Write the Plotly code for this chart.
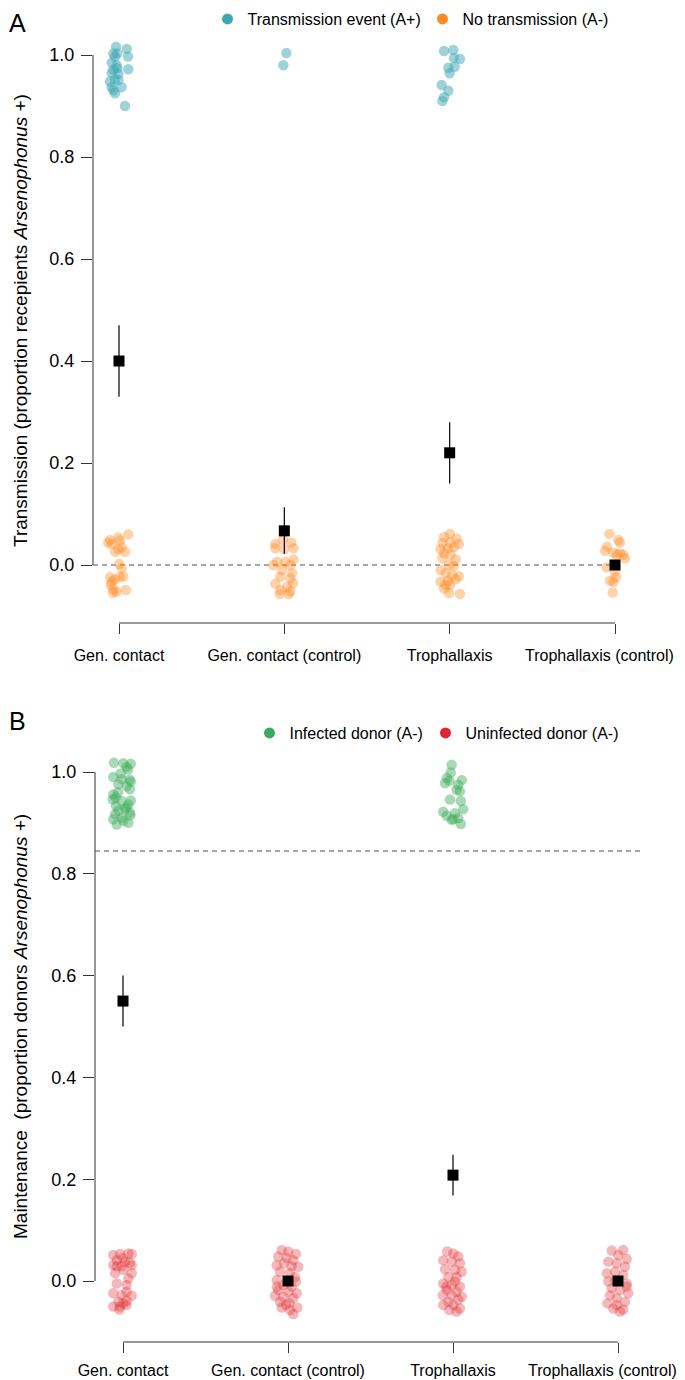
import plotly.graph_objects as go

# ---------------- data ----------------
categories = ["Gen. contact", "Gen. contact (control)", "Trophallaxis", "Trophallaxis (control)"]
cat_pos = [1, 2, 3, 4]
y_ticks = [0.0, 0.2, 0.4, 0.6, 0.8, 1.0]

# Panel A: transmission event (A+) points per category (value, horizontal jitter)
a_pos_y = [
    [1.016, 1.012, 1.003, 1.003, 0.997, 0.997, 0.985, 0.980, 0.971, 0.972, 0.974,
     0.965, 0.963, 0.952, 0.951, 0.948, 0.937, 0.937, 0.931, 0.925, 0.900],
    [1.004, 0.980],
    [1.008, 1.010, 0.994, 0.992, 0.975, 0.977, 0.964, 0.941, 0.930, 0.917, 0.910],
    [],
]
a_pos_jit = [
    [-0.018, 0.047, -0.034, -0.010, 0.054, -0.024, -0.044, -0.014, -0.034, 0.056, -0.010,
     -0.044, -0.004, -0.024, -0.004, -0.054, 0.016, -0.044, -0.034, -0.024, 0.036],
    [0.012, -0.006],
    [-0.034, 0.022, 0.026, 0.062, -0.008, 0.030, 0.000, -0.048, -0.008, -0.034, -0.044],
    [],
]
# Panel A: no transmission (A-)
a_neg_y = [
    [0.060, 0.049, 0.054, 0.044, 0.041, 0.048, 0.026, 0.031, 0.026, 0.035, 0.002,
     -0.006, -0.024, -0.028, -0.024, -0.022, -0.033, -0.048, -0.049, -0.055, -0.052, -0.039],
    [0.041, 0.050, 0.044, 0.033, 0.033, 0.031, 0.006, 0.006, 0.011, 0.000, 0.000,
     -0.010, -0.016, -0.023, -0.026, -0.036, -0.037, -0.043, -0.049, -0.057, -0.057, -0.052],
    [0.055, 0.061, 0.052, 0.043, 0.044, 0.041, 0.031, 0.033, 0.035, 0.023, 0.020, 0.013, 0.011,
     0.000, -0.010, -0.002, -0.016, -0.020, -0.022, -0.033, -0.031, -0.028, -0.046, -0.039,
     -0.055, -0.057, -0.039],
    [0.061, 0.049, 0.044, 0.036, 0.028, 0.024, 0.023, 0.013, 0.020, -0.005, -0.013,
     -0.024, -0.031, -0.033, -0.054, 0.020],
]
a_neg_jit = [
    [0.056, -0.054, -0.004, -0.065, -0.044, 0.006, -0.024, -0.004, 0.036, 0.016, 0.002,
     0.016, -0.054, -0.024, 0.006, 0.026, -0.044, -0.035, 0.042, -0.035, -0.014, -0.050],
    [-0.055, -0.008, 0.042, 0.056, -0.055, 0.000, -0.044, 0.006, 0.056, 0.036, -0.065,
     -0.014, 0.047, -0.024, 0.036, 0.053, -0.055, 0.016, -0.024, 0.026, -0.028, 0.036],
    [-0.034, 0.002, 0.042, -0.044, 0.002, 0.056, -0.055, -0.010, 0.026, -0.034, 0.006, -0.044, 0.036,
     -0.004, -0.055, 0.026, -0.024, 0.016, 0.056, -0.055, -0.010, 0.036, -0.034, 0.002,
     -0.004, 0.062, -0.024],
    [-0.034, 0.020, 0.030, -0.047, -0.061, -0.010, 0.030, 0.061, 0.010, -0.050, 0.000,
     0.006, -0.030, -0.010, -0.014, 0.050],
]
a_mean = [0.40, 0.067, 0.22, 0.0]
a_upper = [0.47, 0.113, 0.28, 0.0]
a_lower = [0.33, 0.022, 0.16, 0.0]
a_ref_line = 0.0

# Panel B: infected donor points
b_inf_y = [
    [1.018, 1.017, 1.016, 1.010, 0.990, 0.997, 0.986, 0.981, 0.976, 0.966, 0.972, 0.956, 0.946,
     0.943, 0.944, 0.936, 0.933, 0.928, 0.924, 0.920, 0.907, 0.910, 0.900, 0.897, 0.904, 0.917,
     1.005, 0.960, 0.930, 0.915, 0.985, 0.950],
    [],
    [1.014, 0.999, 0.988, 0.983, 0.984, 0.978, 0.975, 0.965, 0.962, 0.946, 0.943, 0.927, 0.922,
     0.919, 0.914, 0.906, 0.909, 0.898, 0.907],
    [],
]
b_inf_jit = [
    [-0.055, 0.002, 0.047, 0.022, -0.059, -0.014, -0.008, 0.047, -0.028, 0.042, 0.022, -0.059, -0.062,
     -0.008, 0.047, 0.032, -0.042, 0.012, -0.028, 0.042, -0.059, -0.008, 0.032, -0.038, 0.002, -0.048,
     0.030, -0.030, 0.020, 0.045, 0.040, -0.045],
    [],
    [-0.008, -0.014, -0.038, -0.022, 0.053, -0.048, 0.032, 0.022, 0.042, -0.018, 0.047, 0.062, -0.059,
     0.012, -0.038, -0.008, 0.032, 0.047, 0.002],
    [],
]
# Panel B: uninfected donor points
b_uninf_y = [
    [0.051, 0.053, 0.054, 0.053, 0.041, 0.038, 0.036, 0.031, 0.029, 0.031, 0.022, 0.015, 0.015,
     0.005, -0.005, -0.008, -0.024, -0.021, -0.028, -0.029, -0.039, -0.041, -0.044, -0.050,
     -0.050, -0.047, -0.056, 0.029, 0.045],
    [0.061, 0.058, 0.053, 0.048, 0.045, 0.041, 0.031, 0.035, 0.029, 0.028, 0.018, 0.016, 0.008,
     0.002, -0.001, -0.008, -0.011, -0.018, -0.021, -0.024, -0.029, -0.031, -0.034, -0.041,
     -0.043, -0.052, -0.052, -0.057, -0.065, -0.047, -0.011],
    [0.058, 0.054, 0.048, 0.041, 0.038, 0.035, 0.023, 0.022, 0.018, 0.008, 0.008, -0.005, -0.008,
     -0.011, -0.018, -0.021, -0.028, -0.028, -0.031, -0.041, -0.037, -0.047, -0.047, -0.054,
     -0.057, -0.060, -0.011, -0.001],
    [0.060, 0.061, 0.051, 0.043, 0.038, 0.035, 0.028, 0.015, 0.018, 0.012, -0.001, -0.005, -0.014,
     -0.018, -0.024, -0.028, -0.034, -0.041, -0.044, -0.047, -0.056, -0.054, -0.060, -0.011, 0.002],
]
b_uninf_jit = [
    [-0.059, -0.018, 0.032, 0.053, -0.038, 0.012, 0.042, -0.059, -0.008, 0.053, 0.002, -0.048, 0.053,
     0.032, -0.038, 0.022, -0.059, 0.022, -0.008, 0.053, 0.022, -0.028, 0.002, -0.059,
     -0.018, 0.022, -0.022, -0.038, -0.002],
    [-0.038, 0.002, 0.048, -0.059, -0.008, 0.032, -0.068, -0.024, 0.022, 0.062, -0.048, 0.012, 0.042,
     -0.068, 0.048, -0.028, 0.022, -0.059, 0.002, 0.053, -0.079, -0.028, 0.032, -0.048,
     0.008, 0.056, -0.038, 0.012, 0.032, -0.012, -0.068],
    [-0.035, 0.002, 0.032, -0.059, -0.008, 0.042, -0.048, 0.012, 0.053, -0.028, 0.022, -0.059, -0.008,
     0.042, -0.038, 0.022, -0.062, -0.008, 0.053, -0.028, 0.032, -0.059, 0.002, 0.042,
     -0.022, 0.022, -0.042, 0.012],
    [-0.038, 0.032, 0.002, 0.053, -0.059, -0.008, 0.042, -0.068, -0.018, 0.032, -0.059, 0.053, -0.038,
     0.012, 0.062, -0.048, -0.008, 0.042, -0.065, -0.008, 0.032, -0.028, 0.012, 0.053, -0.018],
]
b_mean = [0.55, 0.0, 0.208, 0.0]
b_upper = [0.60, 0.0, 0.248, 0.0]
b_lower = [0.50, 0.0, 0.168, 0.0]
b_ref_line = 0.845

# ---------------- styling ----------------
FONT = "Liberation Sans, Arial, Helvetica, sans-serif"
TEAL = "#3FA7B4"
ORANGE = "#FF8A1F"
GREEN = "#3DAA5C"
RED = "#E0262E"
AX = "#333333"
OFF = 8                      # page body margin of the browser
W, H = 685 - OFF, 1380 - OFF

# the last label sits slightly left of its tick (kept inside the page), as in the reference
NBSP = "\u00a0"
tick_labels = categories[:-1] + [categories[-1] + NBSP * 7]


def py(p):                   # screen pixel (from top) -> paper fraction
    return 1 - (p - OFF) / H


def pxx(p):                  # screen pixel (from left) -> paper fraction
    return (p - OFF) / W


fig = go.Figure()


def add_points(ys, jits, color, opacity, xa, ya):
    xs, yv = [], []
    for c, vals, jit in zip(cat_pos, ys, jits):
        for v, j in zip(vals, jit):
            xs.append(c + j)
            yv.append(v)
    fig.add_trace(go.Scatter(
        x=xs, y=yv, mode="markers", xaxis=xa, yaxis=ya, showlegend=False,
        marker=dict(color=color, size=10.5, opacity=opacity, line=dict(width=0)),
        hoverinfo="skip"))


def add_means(mean, up, lo, xa, ya):
    fig.add_trace(go.Scatter(
        x=cat_pos, y=mean, mode="markers", xaxis=xa, yaxis=ya, showlegend=False,
        marker=dict(symbol="square", color="black", size=11),
        error_y=dict(type="data", symmetric=False,
                     array=[u - m for u, m in zip(up, mean)],
                     arrayminus=[m - l for m, l in zip(mean, lo)],
                     color="black", thickness=1.2, width=0)))


def add_legend_entry(name, color, legend, xa, ya):
    fig.add_trace(go.Scatter(
        x=[None], y=[None], mode="markers", name=name, legend=legend,
        xaxis=xa, yaxis=ya, marker=dict(color=color, size=11)))


# Panel A
add_points(a_pos_y, a_pos_jit, TEAL, 0.5, "x", "y")
add_points(a_neg_y, a_neg_jit, ORANGE, 0.38, "x", "y")
add_means(a_mean, a_upper, a_lower, "x", "y")
add_legend_entry("Transmission event (A+)", TEAL, "legend", "x", "y")
add_legend_entry("No transmission (A-)", ORANGE, "legend2", "x", "y")

# Panel B
add_points(b_inf_y, b_inf_jit, GREEN, 0.45, "x2", "y2")
add_points(b_uninf_y, b_uninf_jit, RED, 0.33, "x2", "y2")
add_means(b_mean, b_upper, b_lower, "x2", "y2")
add_legend_entry("Infected donor (A-)", GREEN, "legend3", "x2", "y2")
add_legend_entry("Uninfected donor (A-)", RED, "legend4", "x2", "y2")

xcommon = dict(tickvals=cat_pos, ticktext=tick_labels, ticks="outside", ticklen=10,
               tickwidth=1, tickcolor=AX, showline=False, showgrid=False, zeroline=False,
               automargin=False, ticklabeloverflow="allow",
               tickfont=dict(family=FONT, size=16, color="black"))
ycommon = dict(tickvals=y_ticks, ticktext=[f"{v:.1f}" for v in y_ticks], ticks="outside",
               ticklen=11, tickwidth=1, tickcolor=AX, showline=False, showgrid=False,
               zeroline=False, automargin=False,
               tickfont=dict(family=FONT, size=18, color="black"),
               ticklabelstandoff=3)

# screen-pixel geometry of the two panels (as in the reference)
a_left, a_right, a_bottom, a_top = 93, 640, 623, 30
b_left, b_right, b_bottom, b_top = 95, 643, 1342, 750
a_y0, a_y1 = 565, 55          # pixel rows of value 0 and 1
b_y0, b_y1 = 1281, 772
a_c1, a_c4 = 119, 615         # pixel columns of first and last category
b_c1, b_c4 = 123, 618


def yrange(bottom, top, p0, p1):
    s = p0 - p1
    return [(p0 - bottom) / s, (p0 - top) / s]


def xrange(left, right, c1, c4):
    s = (c4 - c1) / 3
    return [1 + (left - c1) / s, 1 + (right - c1) / s]


a_xr = xrange(a_left, a_right, a_c1, a_c4)
b_xr = xrange(b_left, b_right, b_c1, b_c4)


def legend_at(marker_x, center_y):
    # marker sits about 20px right of the legend box left edge
    top_pad = 14
    return dict(orientation="h", x=pxx(marker_x - 20.5), y=1 - (center_y - OFF - top_pad) / H,
                xanchor="left", yanchor="top", font=dict(family=FONT, size=16),
                bgcolor="rgba(0,0,0,0)", itemwidth=30)


fig.update_layout(
    template="none",
    width=W, height=H, margin=dict(l=0, r=0, t=0, b=0, pad=0, autoexpand=False),
    paper_bgcolor="white", plot_bgcolor="white",
    font=dict(family=FONT, color="black"),
    xaxis=dict(domain=[pxx(a_left), pxx(a_right)], range=a_xr, anchor="y",
               ticklabelstandoff=8, **xcommon),
    yaxis=dict(domain=[py(a_bottom), py(a_top)], range=yrange(a_bottom, a_top, a_y0, a_y1),
               anchor="x", **ycommon),
    xaxis2=dict(domain=[pxx(b_left), pxx(b_right)], range=b_xr, anchor="y2",
                ticklabelstandoff=4, **xcommon),
    yaxis2=dict(domain=[py(b_bottom), py(b_top)], range=yrange(b_bottom, b_top, b_y0, b_y1),
                anchor="x2", **ycommon),
    legend=legend_at(228, 16),
    legend2=legend_at(443, 16),
    legend3=legend_at(270, 730),
    legend4=legend_at(446, 730),
)

shapes = []
for xa, ya in (("x", "y"), ("x2", "y2")):
    # R-style axis lines spanning the tick range
    shapes.append(dict(type="line", xref=f"{xa} domain", yref=ya, x0=0, x1=0,
                       y0=y_ticks[0], y1=y_ticks[-1], line=dict(color=AX, width=1)))
    shapes.append(dict(type="line", xref=xa, yref=f"{ya} domain", x0=cat_pos[0], x1=cat_pos[-1],
                       y0=0, y1=0, line=dict(color=AX, width=1)))
shapes.append(dict(type="line", xref="x", yref="y", x0=a_xr[0], x1=cat_pos[-1],
                   y0=a_ref_line, y1=a_ref_line,
                   line=dict(color="#8a8a8a", width=1.5, dash="5px,4px"), layer="below"))
shapes.append(dict(type="line", xref="x2 domain", yref="y2", x0=0, x1=1,
                   y0=b_ref_line, y1=b_ref_line,
                   line=dict(color="#8a8a8a", width=1.5, dash="5px,4px"), layer="below"))
fig.update_layout(shapes=shapes)

annotations = [
    dict(text="A", x=0, y=py(23), xref="paper", yref="paper", xanchor="left", yanchor="middle",
         showarrow=False, borderpad=0, font=dict(family=FONT, size=25)),
    dict(text="B", x=0, y=py(721), xref="paper", yref="paper", xanchor="left", yanchor="middle",
         showarrow=False, borderpad=0, font=dict(family=FONT, size=25)),
    dict(text="Transmission (proportion recepients <i>Arsenophonus</i> +)", textangle=-90,
         x=pxx(20), y=py(321), xref="paper", yref="paper", xanchor="center", yanchor="middle",
         showarrow=False, font=dict(family=FONT, size=19)),
    dict(text="Maintenance  (proportion donors <i>Arsenophonus</i> +)", textangle=-90,
         x=pxx(20), y=py(1027), xref="paper", yref="paper", xanchor="center", yanchor="middle",
         showarrow=False, font=dict(family=FONT, size=19)),
]
fig.update_layout(annotations=annotations)

fig.write_html("out.html")
